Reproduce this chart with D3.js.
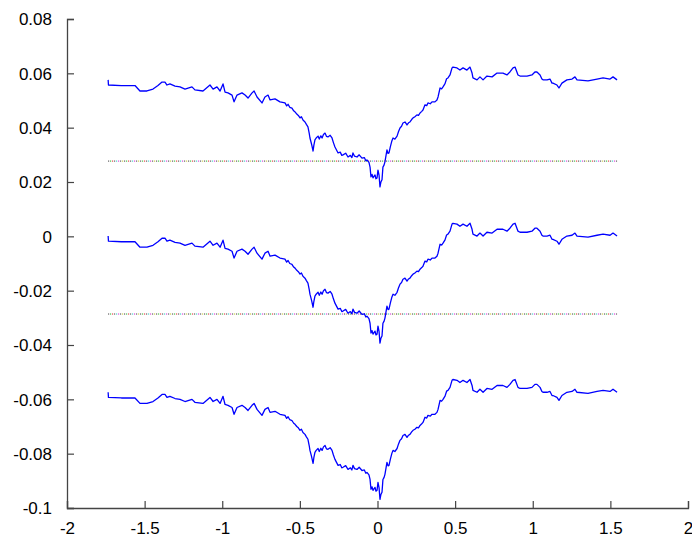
<!DOCTYPE html>
<html>
<head>
<meta charset="utf-8">
<script src="https://cdn.jsdelivr.net/npm/d3@7"></script>
<style>
html,body{margin:0;padding:0;background:#fff;}
svg{display:block;}
text{font-family:"Liberation Sans",Arial,Helvetica,sans-serif;}
</style>
</head>
<body>
<svg id="chart" width="692" height="541"></svg>
<script>
// Tick labels
const xTicks = [-2, -1.5, -1, -0.5, 0, 0.5, 1, 1.5, 2];
const yTicks = [-0.1, -0.08, -0.06, -0.04, -0.02, 0, 0.02, 0.04, 0.06, 0.08];

// Top curve
const curveX = [-1.735,-1.733,-1.65,-1.562,-1.530,-1.485,-1.446,-1.414,-1.388,-1.369,-1.356,-1.337,-1.304,-1.272,-1.240,-1.195,-1.176,-1.124,-1.079,-1.059,-1.034,-1.014,-0.995,-0.982,-0.963,-0.937,-0.924,-0.905,-0.873,-0.853,-0.834,-0.808,-0.795,-0.776,-0.744,-0.725,-0.705,-0.692,-0.660,-0.628,
-0.596,-0.585,-0.576,-0.565,-0.551,-0.540,-0.531,-0.520,-0.510,-0.499,-0.490,-0.480,-0.467,-0.458,-0.448,-0.440,-0.435,-0.425,-0.415,-0.410,-0.403,-0.395,-0.383,-0.375,-0.365,-0.357,-0.348,-0.338,-0.329,-0.319,-0.305,-0.293,-0.284,-0.274,-0.264,-0.254,-0.240,-0.230,-0.222,-0.205,-0.190,-0.175,-0.165,-0.158,-0.148,-0.132,-0.118,-0.100,-0.085,-0.075,-0.068,-0.055,-0.048,-0.042,-0.035,-0.029,-0.016,-0.010,-0.003,
0.003,0.010,0.016,0.022,0.029,0.035,0.042,0.048,0.055,0.061,0.068,0.074,0.083,0.093,0.100,0.112,0.126,0.135,0.145,0.155,0.164,0.177,0.190,0.200,0.209,0.220,0.229,0.241,0.254,0.264,0.274,0.285,0.293,0.306,0.317,0.325,0.340,0.351,0.370,0.383,0.390,0.403,0.413,0.422,0.435,0.445,0.454,0.467,0.480,
0.486,0.512,0.531,0.551,0.576,0.596,0.609,0.615,0.641,0.660,0.680,0.705,0.738,0.770,0.789,0.808,0.834,0.853,0.873,0.886,0.905,0.918,0.963,0.995,1.014,1.027,1.047,1.059,1.066,1.092,1.111,1.124,1.130,1.156,1.169,1.188,1.220,1.253,1.272,1.285,1.356,1.414,1.453,1.498,1.517,1.543];
const curveY = [0.0576,0.0557,0.0555,0.0555,0.0535,0.0535,0.0542,0.0555,0.0568,0.0568,0.0557,0.0561,0.0553,0.0550,0.0542,0.0550,0.0539,0.0535,0.0557,0.0542,0.0550,0.0535,0.0561,0.0531,0.0528,0.0520,0.0495,0.0520,0.0528,0.0520,0.0509,0.0528,0.0535,0.0513,0.0491,0.0513,0.0520,0.0502,0.0506,0.0495,
0.0491,0.0480,0.0486,0.0475,0.0472,0.0462,0.0458,0.0450,0.0445,0.0436,0.0440,0.0428,0.0421,0.0412,0.0403,0.0380,0.0362,0.0340,0.0314,0.0335,0.0355,0.0362,0.0369,0.0358,0.0370,0.0362,0.0375,0.0380,0.0368,0.0366,0.0372,0.0362,0.0345,0.0329,0.0318,0.0307,0.0310,0.0298,0.0300,0.0306,0.0292,0.0298,0.0290,0.0307,0.0295,0.0292,0.0300,0.0288,0.0290,0.0278,0.0281,0.0272,0.0255,0.0219,0.0228,0.0215,0.0226,0.0212,0.0215,
0.0244,0.0225,0.0182,0.0200,0.0208,0.0255,0.0262,0.0274,0.0298,0.0318,0.0305,0.0307,0.0330,0.0352,0.0362,0.0358,0.0369,0.0385,0.0399,0.0405,0.0417,0.0421,0.0410,0.0418,0.0421,0.0430,0.0436,0.0440,0.0447,0.0445,0.0454,0.0460,0.0465,0.0484,0.0481,0.0491,0.0488,0.0495,0.0495,0.0502,0.0513,0.0546,0.0543,0.0550,0.0562,0.0580,0.0583,0.0594,0.0620,
0.0623,0.0620,0.0612,0.0620,0.0612,0.0623,0.0601,0.0583,0.0576,0.0587,0.0576,0.0590,0.0587,0.0601,0.0601,0.0601,0.0594,0.0605,0.0620,0.0623,0.0594,0.0590,0.0590,0.0594,0.0605,0.0605,0.0594,0.0579,0.0576,0.0576,0.0579,0.0564,0.0564,0.0557,0.0546,0.0564,0.0576,0.0579,0.0587,0.0576,0.0572,0.0579,0.0583,0.0579,0.0587,0.0576];

// Vertical offsets of the three copies
const offsets = [0, -0.0575, -0.115];
// Dotted reference lines
const refLevels = [0.0277, -0.0286];
const refX = [-1.735, 1.543];

const svg = d3.select("#chart");
const x = d3.scaleLinear().domain([-2, 2]).range([67, 688]);
const y = d3.scaleLinear().domain([-0.1, 0.08]).range([508, 19]);

const fmt = d => String(+d.toFixed(2));

// Axes
const gx = svg.append("g").attr("transform", `translate(0,${y(-0.1)})`)
  .call(d3.axisBottom(x).tickValues(xTicks).tickSize(-7).tickPadding(14).tickFormat(fmt));
const gy = svg.append("g").attr("transform", `translate(${x(-2)},0)`)
  .call(d3.axisLeft(y).tickValues(yTicks).tickSize(-7).tickPadding(15).tickFormat(fmt));
[gx, gy].forEach(g => {
  g.select(".domain").attr("stroke", "#444").attr("stroke-width", 1.3);
  g.selectAll(".tick line").attr("stroke", "#444").attr("stroke-width", 1.2);
  g.selectAll(".tick text").attr("fill", "#000").style("font-size", "17px");
});
gy.selectAll(".tick text").attr("dy", "0.35em");
gx.selectAll(".tick text").attr("dy", "0.71em");

// Dotted lines (multi-coloured dots)
const dotColors = ["#222", "#0a0", "#d00", "#222", "#0bb", "#c0c", "#222", "#bb0"];
refLevels.forEach(lv => {
  dotColors.forEach((c, i) => {
    svg.append("line")
      .attr("x1", x(refX[0])).attr("x2", x(refX[1]))
      .attr("y1", y(lv)).attr("y2", y(lv))
      .attr("stroke", c).attr("stroke-width", 1)
      .attr("stroke-dasharray", `1 ${dotColors.length * 2 - 1}`)
      .attr("stroke-dashoffset", -i * 2);
  });
});

// Curves
const line = d3.line().x(d => x(d[0])).y(d => y(d[1]));
offsets.forEach(off => {
  const pts = curveX.map((cx, i) => [cx, curveY[i] + off]);
  svg.append("path").datum(pts)
    .attr("fill", "none").attr("stroke", "#0000ff").attr("stroke-width", 1.3)
    .attr("stroke-linejoin", "round")
    .attr("d", line);
});
</script>
</body>
</html>
